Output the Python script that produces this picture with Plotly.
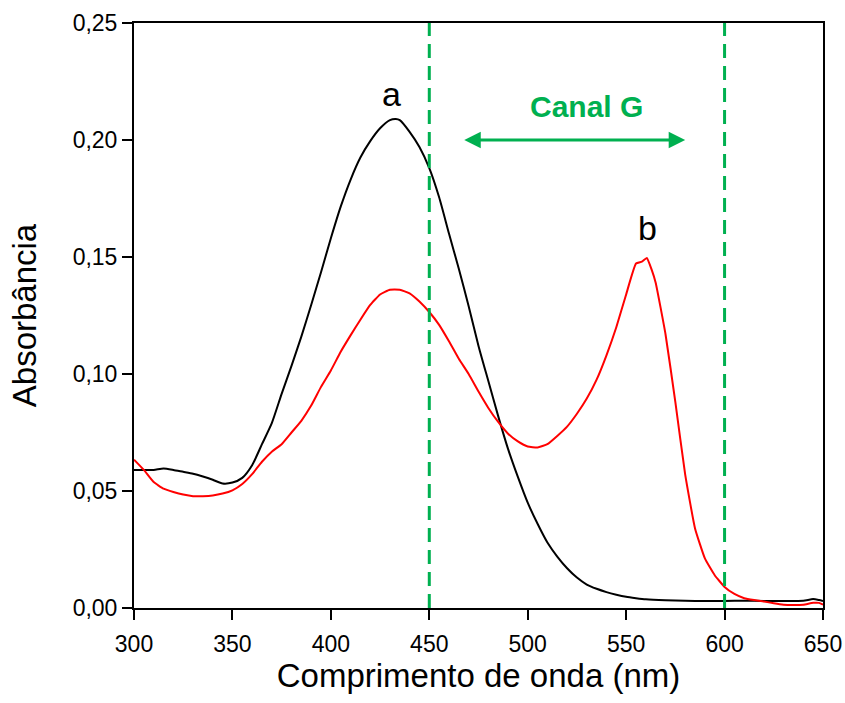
import plotly.graph_objects as go

# Wavelength grid (nm) and absorbance values
wl_a = [300, 305, 310, 315, 320, 325, 330, 335, 340, 345, 350, 355, 360, 365, 370, 375,
        380, 385, 390, 395, 400, 405, 410, 415, 420, 425, 430, 433, 435, 440, 445, 450,
        455, 460, 465, 470, 475, 480, 485, 490, 495, 500, 505, 510, 515, 520, 525, 530,
        535, 540, 545, 550, 555, 560, 570, 580, 590, 600, 610, 620, 630, 640, 645, 648, 650]
abs_a = [0.0590, 0.0590, 0.0590, 0.0596, 0.0590, 0.0582, 0.0574, 0.0562, 0.0548, 0.0532,
         0.0536, 0.0556, 0.0610, 0.0700, 0.0790, 0.0915, 0.1035, 0.1160, 0.1295, 0.1435,
         0.1580, 0.1715, 0.1830, 0.1925, 0.1995, 0.2050, 0.2085, 0.2090, 0.2085, 0.2035,
         0.1970, 0.1880, 0.1755, 0.1600, 0.1450, 0.1290, 0.1120, 0.0970, 0.0820, 0.0680,
         0.0560, 0.0450, 0.0360, 0.0280, 0.0220, 0.0170, 0.0130, 0.0100, 0.0082, 0.0068,
         0.0057, 0.0048, 0.0042, 0.0037, 0.0033, 0.0031, 0.0030, 0.0030, 0.0031, 0.0030,
         0.0030, 0.0031, 0.0038, 0.0034, 0.0030]

wl_b = [300, 305, 310, 315, 320, 325, 330, 335, 340, 345, 350, 355, 360, 365, 370, 375,
        380, 385, 390, 395, 400, 405, 410, 415, 420, 425, 430, 435, 440, 445, 450, 455,
        460, 465, 470, 475, 480, 485, 490, 495, 500, 505, 510, 515, 520, 525, 530, 535,
        540, 545, 550, 555, 558, 560.5, 563, 565, 570, 575, 580, 585, 590, 595, 600, 605,
        610, 615, 620, 625, 630, 635, 640, 645, 648, 650]
abs_b = [0.0634, 0.0590, 0.0538, 0.0510, 0.0496, 0.0485, 0.0478, 0.0478, 0.0481, 0.0489,
         0.0503, 0.0530, 0.0572, 0.0625, 0.0668, 0.0700, 0.0750, 0.0800, 0.0865, 0.0945,
         0.1015, 0.1095, 0.1165, 0.1232, 0.1295, 0.1340, 0.1360, 0.1360, 0.1345, 0.1310,
         0.1265, 0.1210, 0.1140, 0.1065, 0.1000, 0.0925, 0.0855, 0.0795, 0.0745, 0.0712,
         0.0690, 0.0686, 0.0700, 0.0735, 0.0775, 0.0830, 0.0895, 0.0976, 0.1080, 0.1200,
         0.1340, 0.1472, 0.1480, 0.1496, 0.1445, 0.1390, 0.1170, 0.0880, 0.0570, 0.0340,
         0.0212, 0.0140, 0.0090, 0.0060, 0.0042, 0.0034, 0.0028, 0.0020, 0.0014, 0.0013,
         0.0014, 0.0022, 0.0022, 0.0014]

x_ticks = [300, 350, 400, 450, 500, 550, 600, 650]
y_ticks = [0.00, 0.05, 0.10, 0.15, 0.20, 0.25]
channel_limits = [450, 600]
arrow_span = [467, 580]

FONT = "Liberation Sans, Arial, sans-serif"
GREEN = "#00B050"

fig = go.Figure()
fig.add_trace(go.Scatter(x=wl_a, y=abs_a, mode="lines",
                         line=dict(color="black", width=2, shape="spline", smoothing=0.6),
                         name="a"))
fig.add_trace(go.Scatter(x=wl_b, y=abs_b, mode="lines",
                         line=dict(color="#FF0000", width=2, shape="spline", smoothing=0.4),
                         name="b"))

for xv in channel_limits:
    fig.add_shape(type="line", x0=xv, x1=xv, y0=0, y1=0.25, xref="x", yref="y",
                  line=dict(color=GREEN, width=3, dash="14px,8px"))

fig.add_annotation(x=arrow_span[1], y=0.20, ax=arrow_span[0], ay=0.20,
                   xref="x", yref="y", axref="x", ayref="y", text="",
                   showarrow=True, arrowhead=2, startarrowhead=2, arrowside="end+start",
                   arrowsize=1.1, startarrowsize=1.1, arrowwidth=3, arrowcolor=GREEN,
                   standoff=0, startstandoff=0)
fig.add_annotation(x=530, y=0.2144, xref="x", yref="y", text="<b>Canal G</b>",
                   showarrow=False, font=dict(family=FONT, size=30, color=GREEN))
fig.add_annotation(x=431, y=0.2195, xref="x", yref="y", text="a",
                   showarrow=False, font=dict(family=FONT, size=34, color="black"))
fig.add_annotation(x=561, y=0.1625, xref="x", yref="y", text="b",
                   showarrow=False, font=dict(family=FONT, size=34, color="black"))

fig.update_layout(
    width=845, height=703,
    margin=dict(l=134, r=22, t=23, b=95, autoexpand=False),
    paper_bgcolor="white", plot_bgcolor="white",
    showlegend=False,
    separators=",.",
    font=dict(family=FONT, color="black"),
)
fig.update_xaxes(range=[300, 650], tickvals=x_ticks, ticks="outside", ticklen=10,
                 tickwidth=2, tickcolor="black", showline=True, linecolor="black",
                 linewidth=2, mirror=True, showgrid=False, zeroline=False,
                 automargin=False, ticklabelstandoff=4,
                 tickfont=dict(family=FONT, size=23, color="black"),
                 title=dict(text="Comprimento de onda (nm)", standoff=8,
                            font=dict(family=FONT, size=33, color="black")))
fig.update_yaxes(range=[0, 0.25], tickvals=y_ticks, tickformat=".2f", ticks="outside",
                 ticklen=10, tickwidth=2, tickcolor="black", showline=True,
                 linecolor="black", linewidth=2, mirror=True, showgrid=False,
                 zeroline=False, automargin=False,
                 tickfont=dict(family=FONT, size=23, color="black"),
                 title=dict(text="Absorbância", standoff=26,
                            font=dict(family=FONT, size=33, color="black")))

fig.write_html("out.html")
